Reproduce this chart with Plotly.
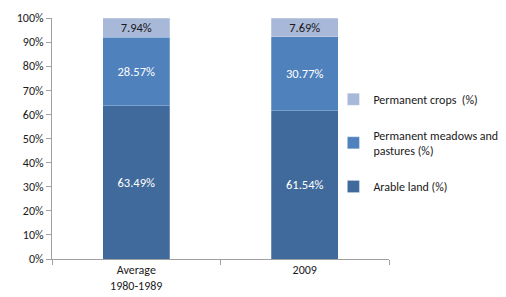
import plotly.graph_objects as go

categories = ["Average<br>1980-1989", "2009"]
arable = [63.49, 61.54]
meadows = [28.57, 30.77]
crops = [7.94, 7.69]
series_names = ["Arable land (%)", "Permanent meadows and<br>pastures (%)", "Permanent crops  (%)"]
colors = ["#416A9C", "#4F81BD", "#A8B8D8"]
label_colors = ["white", "white", "#1a1a1a"]
ytick_vals = [0, 10, 20, 30, 40, 50, 60, 70, 80, 90, 100]
ytick_text = [f"{v}%" for v in ytick_vals]

FONT = "Carlito, Calibri, Lato, sans-serif"

fig = go.Figure()
for i, (name, vals) in enumerate(zip(series_names, [arable, meadows, crops])):
    fig.add_trace(go.Bar(
        x=categories, y=vals, name=name,
        marker=dict(color=colors[i], line=dict(color="rgba(255,255,255,0.4)", width=0.6)),
        text=[f"{v:.2f}%" for v in vals],
        textposition="inside", insidetextanchor="middle", constraintext="none",
        textfont=dict(color=label_colors[i], size=12.5, family=FONT),
        legendgroup=str(i), legendrank=3 - i,
    ))

fig.update_layout(
    barmode="stack", bargap=0.6,
    width=506, height=297,
    margin=dict(l=52, r=117, t=18, b=38, autoexpand=False),
    plot_bgcolor="rgba(0,0,0,0)", paper_bgcolor="white",
    font=dict(family=FONT, size=12, color="#1a1a1a"),
    showlegend=True,
    uniformtext=dict(minsize=12.5, mode="show"),
    legend=dict(x=0.835, y=0.723, xanchor="left", yanchor="top",
                traceorder="grouped", tracegroupgap=17,
                bgcolor="rgba(0,0,0,0)",
                font=dict(size=12, family=FONT), itemwidth=30),
)
fig.update_yaxes(range=[0, 100], tickvals=ytick_vals, ticktext=ytick_text,
                 showgrid=False, showline=True, linecolor="#A0A0A0", linewidth=1,
                 ticks="outside", ticklen=5, tickcolor="#A0A0A0", zeroline=False,
                 tickfont=dict(size=12), automargin=False)
fig.update_xaxes(showline=True, linecolor="#A0A0A0", linewidth=1,
                 ticks="outside", tickson="boundaries", ticklen=5, tickcolor="#A0A0A0",
                 tickfont=dict(size=12), automargin=False)

fig.write_html("out.html", config={"displayModeBar": False})
with open("out.html", "r", encoding="utf-8") as f:
    html = f.read()
html = html.replace("<body>", '<body style="margin:0;padding:0;overflow:hidden">', 1)
with open("out.html", "w", encoding="utf-8") as f:
    f.write(html)
